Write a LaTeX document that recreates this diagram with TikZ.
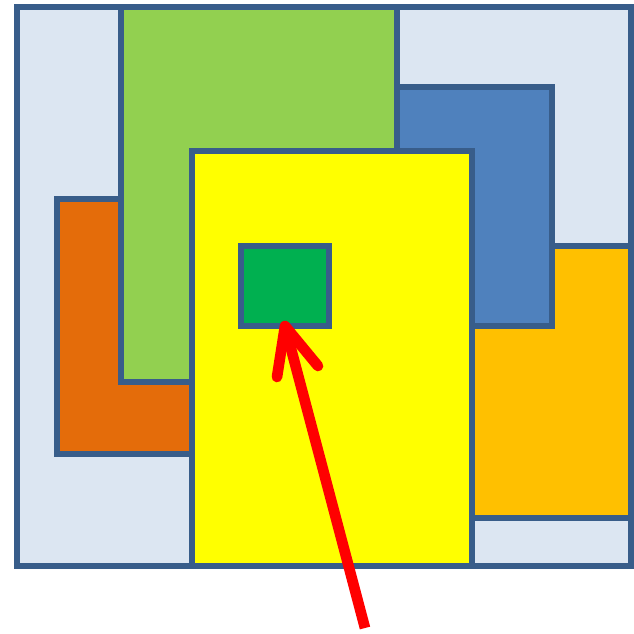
\documentclass[tikz,border=0pt]{standalone}
\definecolor{outline}{HTML}{385D8A}
\definecolor{paleblue}{HTML}{DCE6F2}
\definecolor{lime}{HTML}{92D050}
\definecolor{steel}{HTML}{4F81BD}
\definecolor{burnt}{HTML}{E46C0A}
\definecolor{amber}{HTML}{FFC000}
\definecolor{lemon}{HTML}{FFFF00}
\definecolor{leaf}{HTML}{00B050}
\begin{document}
\begin{tikzpicture}[x=0.03cm, y=-0.03cm,
    box/.style={draw=outline, line width=0.16cm},
    pointer/.style={draw=red, line width=0.32cm}]
    \useasboundingbox (0,0) rectangle (634,633);

    % Frame
    \draw[box, fill=paleblue] (17,7) rectangle (631,566);

    % Rectangles at the back
    \draw[box, fill=burnt] (57,199) rectangle (192,454);
    \draw[box, fill=amber] (472,246) rectangle (631,518);
    \draw[box, fill=steel] (397,87) rectangle (552,326);
    \draw[box, fill=lime] (121,7) rectangle (397,382);

    % Yellow rectangle in front
    \draw[box, fill=lemon] (192,151) rectangle (472,566);

    % Small square and pointer
    \node[box, fill=leaf, minimum width=2.64cm, minimum height=2.4cm,
          inner sep=0pt, outer sep=0pt, anchor=north west] (target) at (241,246) {};
    \coordinate (tail) at (365,628);
    \draw[pointer] (tail) -- (target.south);
    \draw[pointer, line cap=round, line join=round]
        (target.south) ++(-8,51) -- (target.south) -- ++(33,40);
\end{tikzpicture}
\end{document}
